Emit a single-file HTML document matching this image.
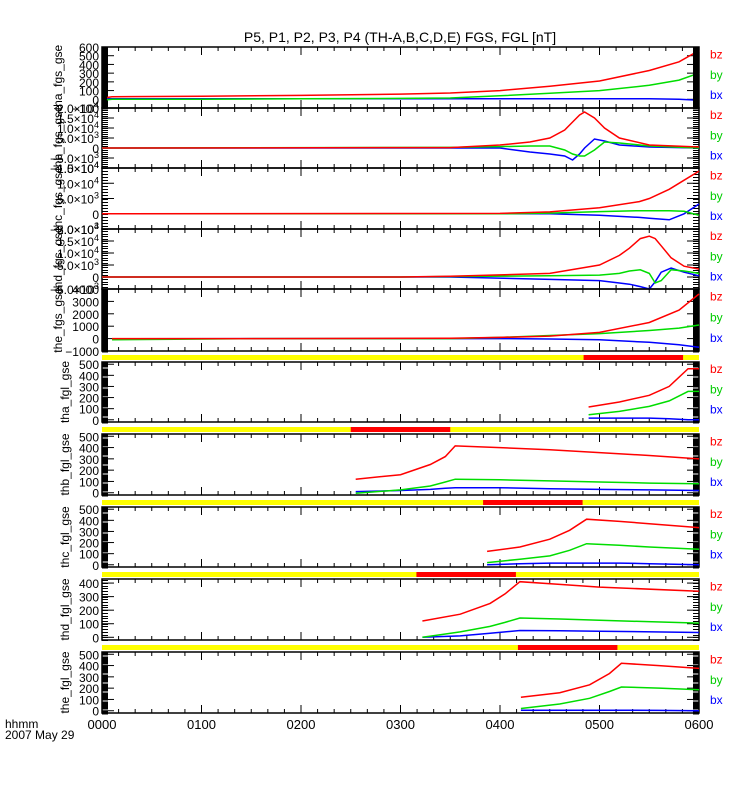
<!DOCTYPE html>
<html><head><meta charset="utf-8"><style>
body{margin:0;background:#fff}
svg{display:block;font-family:"Liberation Sans",sans-serif}
</style></head><body>
<svg id="c" width="750" height="800" viewBox="0 0 750 800" xmlns="http://www.w3.org/2000/svg">
<text x="400" y="42" font-size="14" text-anchor="middle">P5, P1, P2, P3, P4 (TH-A,B,C,D,E) FGS, FGL [nT]</text>
<text x="5" y="728" font-size="12">hhmm</text>
<text x="5" y="739" font-size="12">2007 May 29</text>
</svg>
<script>
// ---- data (time in hours, values in nT) ----
const xTickLabels=["0000","0100","0200","0300","0400","0500","0600"];
const thaFgsT=[0.05,0.1,1,2,3,3.5,4,4.5,5,5.5,5.8,6];
const thaFgsBz=[20,30,35,45,60,72,100,150,210,330,430,560];
const thaFgsBy=[-5,0,0,5,10,15,40,70,100,160,220,300];
const thaFgsBx=[5,5,5,5,5,5,5,5,5,5,0,-10];
const thbFgsT=[0,3.5,4,4.3,4.5,4.65,4.73,4.8,4.85,4.95,5.05,5.2,5.5,6];
const thbFgsBz=[0,200,1500,3000,5000,9000,13000,16500,18000,15000,10000,5000,1500,500];
const thbFgsBy=[0,300,700,1000,1000,-1000,-3000,-4000,-4000,-1000,3000,2500,1000,0];
const thbFgsBx=[0,0,0,-2000,-3000,-4000,-6000,-3000,0,4500,3500,1500,500,0];
const thcFgsT=[0,4,4.5,5,5.4,5.5,5.7,5.85,6];
const thcFgsBz=[0,100,600,2000,4000,5000,8000,11000,14000];
const thcFgsBy=[0,0,200,700,1000,1000,1000,800,-500];
const thcFgsBx=[0,0,0,-500,-1200,-1500,-2000,0,3200];
const thdFgsT=[0,3,3.5,4.5,5,5.2,5.3,5.41,5.5,5.56,5.62,5.72,5.85,6];
const thdFgsBz=[0,0,300,1500,5000,9000,12000,16000,17000,16000,13000,8000,4500,3300];
const thdFgsBy=[0,0,200,500,800,1500,2500,3000,1500,-2500,-1500,3000,2500,1500];
const thdFgsBx=[0,0,0,-1000,-1500,-2500,-3000,-4000,-5000,-2000,2000,3700,2000,500];
const theFgsT=[0.1,1.6,3.5,4,4.5,5,5.5,5.8,6];
const theFgsBz=[0,0,30,100,200,500,1300,2300,3600];
const theFgsBy=[-100,0,0,100,250,400,650,850,1100];
const theFgsBx=[-20,0,0,0,-30,-100,-300,-500,-700];
const thaFglT=[4.89,5.2,5.5,5.7,5.89,6];
const thaFglBz=[115,160,220,300,460,460];
const thaFglBy=[45,75,120,170,255,255];
const thaFglBx=[15,15,15,10,0,0];
const thbFglT=[2.55,3.0,3.3,3.45,3.55,4.0,4.5,5.0,5.5,6];
const thbFglBz=[120,160,250,320,415,400,380,355,330,300];
const thbFglBy=[-5,25,60,95,120,115,105,95,85,80];
const thbFglBx=[10,20,30,40,45,45,35,30,25,20];
const thcFglT=[3.87,4.2,4.5,4.7,4.87,5.2,5.5,6];
const thcFglBz=[120,160,230,310,410,390,370,335];
const thcFglBy=[20,50,80,130,190,175,160,140];
const thcFglBx=[0,10,15,15,15,15,10,0];
const thdFglT=[3.22,3.6,3.9,4.05,4.2,4.6,5,6];
const thdFglBz=[120,170,250,320,410,390,370,340];
const thdFglBy=[0,40,80,110,142,135,125,105];
const thdFglBx=[0,10,30,40,50,48,45,35];
const theFglT=[4.21,4.6,4.9,5.1,5.22,5.6,6];
const theFglBz=[120,160,230,330,420,400,375];
const theFglBy=[20,60,110,170,210,200,185];
const theFglBx=[5,5,5,5,5,3,0];
// red/yellow availability bars: start,end hours
const barStart=[4.84,2.5,3.83,3.16,4.18];
const barEnd=[5.84,3.5,4.83,4.16,5.18];

const X0=102,X1=699,T0=0,T1=6;
function xs(t){return X0+(t-T0)/(T1-T0)*(X1-X0);}
const svg=document.getElementById('c');
const NS="http://www.w3.org/2000/svg";
function el(tag,attrs,parent){const e=document.createElementNS(NS,tag);for(const k in attrs)e.setAttribute(k,attrs[k]);(parent||svg).appendChild(e);return e;}

const panels=[
 {n:"tha-fgs",lab:"tha_fgs_gse",top:47,bot:108,lo:-100,hi:600,ticks:[-100,0,100,200,300,400,500,600],minor:10,sw:2,t:thaFgsT,bz:thaFgsBz,by:thaFgsBy,bx:thaFgsBx,sci:false},
 {n:"thb-fgs",lab:"thb_fgs_gse",top:108,bot:168,lo:-10000,hi:20000,ticks:[-10000,-5000,0,5000,10000,15000,20000],minor:1000,sw:1,t:thbFgsT,bz:thbFgsBz,by:thbFgsBy,bx:thbFgsBx,sci:true},
 {n:"thc-fgs",lab:"thc_fgs_gse",top:168,bot:229,lo:-5000,hi:15000,ticks:[-5000,0,5000,10000,15000],minor:1000,sw:1,t:thcFgsT,bz:thcFgsBz,by:thcFgsBy,bx:thcFgsBx,sci:true},
 {n:"thd-fgs",lab:"thd_fgs_gse",top:229,bot:289,lo:-5000,hi:20000,ticks:[-5000,0,5000,10000,15000,20000],minor:1000,sw:1,t:thdFgsT,bz:thdFgsBz,by:thdFgsBy,bx:thdFgsBx,sci:true},
 {n:"the-fgs",lab:"the_fgs_gse",top:289,bot:351,lo:-1000,hi:4000,ticks:[-1000,0,1000,2000,3000,4000],minor:100,sw:2,t:theFgsT,bz:theFgsBz,by:theFgsBy,bx:theFgsBx,sci:false},
 {n:"tha-fgl",lab:"tha_fgl_gse",top:362,bot:422,lo:-20,hi:520,ticks:[0,100,200,300,400,500],minor:20,sw:2,t:thaFglT,bz:thaFglBz,by:thaFglBy,bx:thaFglBx,sci:false},
 {n:"thb-fgl",lab:"thb_fgl_gse",top:434,bot:495,lo:-20,hi:520,ticks:[0,100,200,300,400,500],minor:20,sw:2,t:thbFglT,bz:thbFglBz,by:thbFglBy,bx:thbFglBx,sci:false},
 {n:"thc-fgl",lab:"thc_fgl_gse",top:507,bot:567,lo:-20,hi:520,ticks:[0,100,200,300,400,500],minor:20,sw:2,t:thcFglT,bz:thcFglBz,by:thcFglBy,bx:thcFglBx,sci:false},
 {n:"thd-fgl",lab:"thd_fgl_gse",top:579,bot:640,lo:-20,hi:430,ticks:[0,100,200,300,400],minor:20,sw:1,t:thdFglT,bz:thdFglBz,by:thdFglBy,bx:thdFglBx,sci:false},
 {n:"the-fgl",lab:"the_fgl_gse",top:652,bot:713,lo:-20,hi:520,ticks:[0,100,200,300,400,500],minor:20,sw:2,t:theFglT,bz:theFglBz,by:theFglBy,bx:theFglBx,sci:false}
];
const barY=[355,427,500,572,645];

function fmtSci(v){ const e=Math.floor(Math.log10(Math.abs(v))); const m=(v/Math.pow(10,e)).toFixed(1); return [m.replace('-','−')+"×10",String(e)];}

panels.forEach((p,pi)=>{
  const g=el('g',{});
  
  
  const ys=v=>p.bot-(v-p.lo)/(p.hi-p.lo)*(p.bot-p.top);
  el('rect',{x:X0,y:p.top,width:X1-X0,height:p.bot-p.top,fill:'none',stroke:'#000','stroke-width':1.5},g);
  for(let v=Math.ceil(p.lo/p.minor)*p.minor; v<=p.hi; v+=p.minor){
    const y=Math.round(ys(v))+0.5;
    el('line',{x1:X0,x2:X0+6,y1:y,y2:y,stroke:'#000','stroke-width':p.sw,'shape-rendering':'crispEdges'},g);
    el('line',{x1:X1-6,x2:X1,y1:y,y2:y,stroke:'#000','stroke-width':p.sw,'shape-rendering':'crispEdges'},g);
  }
  p.ticks.forEach(v=>{
    const y=ys(v);
    el('line',{x1:X0,x2:X0+12,y1:y,y2:y,stroke:'#000','stroke-width':1},g);
    el('line',{x1:X1-12,x2:X1,y1:y,y2:y,stroke:'#000','stroke-width':1},g);
    const tx=el('text',{x:X0-3,y:y+5,'font-size':12,'text-anchor':'end'},g);
    
    
    if(p.sci && v!==0){const f=fmtSci(v);tx.textContent=f[0];const s=el('tspan',{dy:-5,'font-size':9},tx);s.textContent=f[1];}
    else tx.textContent=String(v).replace('-','−');
  });
  for(let m=0;m<=360;m+=10){
    const x=xs(m/60), L=(m%60===0)?8:4;
    el('line',{x1:x,x2:x,y1:p.top,y2:p.top+L,stroke:'#000','stroke-width':1},g);
    el('line',{x1:x,x2:x,y1:p.bot-L,y2:p.bot,stroke:'#000','stroke-width':1},g);
  }
  const yt=el('text',{x:0,y:0,'font-size':12,'text-anchor':'middle',transform:`translate(${pi<5?X0-40:X0-33},${(p.top+p.bot)/2}) rotate(-90)`},g);
  
  
  yt.textContent=p.lab;
  [['bx','#0000ff'],['by','#00dd00'],['bz','#ff0000']].forEach(([k,col])=>{
    const pts=p.t.map((t,i)=>xs(t).toFixed(1)+','+ys(p[k][i]).toFixed(1)).join(' ');
    const pl=el('polyline',{points:pts,fill:'none',stroke:col,'stroke-width':1.5},g);
    
    
  });
  const h=p.bot-p.top;
  [['bz','#ff0000',0.12],['by','#00cc00',0.46],['bx','#0000ff',0.79]].forEach(([k,col,f])=>{
    const lt=el('text',{x:710,y:p.top+h*f+4,'font-size':12,fill:col},g);
    
    
    lt.textContent=k;
  });
});
el('rect',{x:X1-6,y:47,width:6,height:61,fill:'#000'});
barY.forEach((y,i)=>{
  const b=el('rect',{x:X0,y:y,width:X1-X0,height:5,fill:'#ffff00'});
  
  
  const r=el('rect',{x:xs(barStart[i]),y:y,width:xs(barEnd[i])-xs(barStart[i]),height:5,fill:'#ff0000'});
  
  
});
xTickLabels.forEach((s,i)=>{
  const t=el('text',{x:xs(i),y:729,'font-size':13,'text-anchor':'middle'});
  
  
  t.textContent=s;
});
</script>
</body></html>
